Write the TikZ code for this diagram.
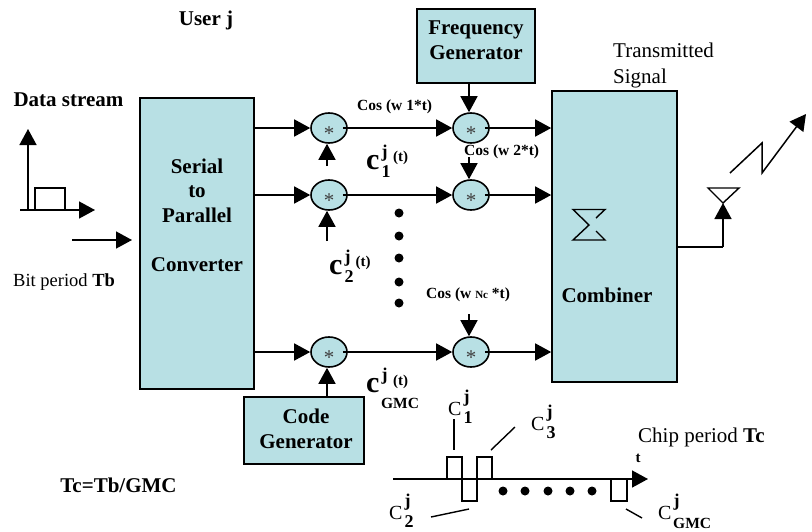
\documentclass[tikz,border=0pt]{standalone}
\usepackage{fontspec}
\setmainfont{Liberation Serif}
\usepackage{xcolor}
\usetikzlibrary{arrows.meta,shapes.geometric}
\definecolor{boxfill}{RGB}{184,224,228}
\newcommand{\supsub}[3]{\rlap{\raisebox{#1pt}{\fontsize{18}{18}\selectfont\bfseries j}}\raisebox{-#2pt}{\fontsize{18}{18}\selectfont\bfseries #3}}
\newcommand{\bigc}[1]{{\fontsize{30}{30}\selectfont\bfseries c}\kern2pt\supsub{12}{8}{#1}}
\newcommand{\chipc}[1]{{\fontsize{20}{20}\selectfont C}\kern2pt\supsub{13}{8}{#1}}
\newcommand{\mixstar}{\smash{\raisebox{-12pt}{*}}}
\tikzset{
    block/.style={draw, line width=1.6pt, fill=boxfill, inner sep=0pt},
    mixer/.style={draw, ellipse, line width=1.6pt, fill=boxfill, inner sep=0pt, minimum width=36pt, minimum height=30pt, text=black!75, font=\fontsize{21}{21}\selectfont},
    txt/.style={inner sep=0pt, align=left, font=\fontsize{21}{26}\selectfont},
    bold/.style={inner sep=0pt, align=center, font=\fontsize{21}{24.5}\selectfont\bfseries},
    small/.style={inner sep=0pt, anchor=base west, font=\fontsize{15.5}{16}\selectfont\bfseries},
    tee/.style={inner sep=0pt, font=\fontsize{15}{15}\selectfont\bfseries},
    code/.style={inner sep=0pt, anchor=base west},
    head/.tip={Triangle[length=16pt,width=17pt]},
    flow/.style={line width=1.5pt, -head},
    plain/.style={line width=1.4pt},
    blob/.style={circle, fill=black, inner sep=0pt, minimum size=9pt}
}

\begin{document}
\begin{tikzpicture}[x=1pt,y=-1pt]
\useasboundingbox (0,0) rectangle (812,531);

\node[block, minimum width=114pt, minimum height=291pt] (conv) at (197,243.5) {};
\node[block, minimum width=118pt, minimum height=74pt] (freq) at (476,46) {};
\node[block, minimum width=125pt, minimum height=291pt] (comb) at (614.5,236.5) {};
\node[block, minimum width=120pt, minimum height=67pt] (gen) at (304,430.5) {};

\node[mixer] (m11) at (329,128) {\mixstar};
\node[mixer] (m21) at (329,195) {\mixstar};
\node[mixer] (m31) at (329,352) {\mixstar};
\node[mixer] (m12) at (471,128) {\mixstar};
\node[mixer] (m22) at (471,195) {\mixstar};
\node[mixer] (m32) at (471,352) {\mixstar};

\node[bold] (convtxt) at (197,215) {Serial\\to\\Parallel\\\\Converter};
\node[bold] (freqtxt) at (476,40) {Frequency\\Generator};
\node[bold] (gentxt) at (306,429) {Code\\Generator};
\node[bold, anchor=base] (combtxt) at (607,302) {Combiner};

\foreach \r in {1,2,3}{
  \draw[flow, shorten <=-2pt] (conv.east |- m\r1) -- (m\r1);
  \draw[flow, shorten <=-5pt] (m\r1) -- (m\r2);
  \draw[flow, shorten <=-5pt] (m\r2) -- (comb.west |- m\r2);
}

% inputs of the mixers
\coordinate (in11) at (327,166);
\coordinate (in21) at (327,241);
\coordinate (in31) at (327,397);
\coordinate (in12) at (469,83);
\coordinate (in22) at (469,157);
\coordinate (in32) at (469,314);
\draw[flow] (in11) -- (m11.south -| in11);
\draw[flow] (in21) -- (m21.south -| in21);
\draw[flow] (in31) -- (m31.south -| in31);
\draw[flow] (in12) -- (m12.north -| in12);
\draw[flow] (in22) -- (m22.north -| in22);
\draw[flow] (in32) -- (m32.north -| in32);

% data stream
\node[bold, anchor=base] (user) at (206,25) {User j};
\node[bold, anchor=base] (data) at (68.5,106) {Data stream};
\coordinate (o) at (28,210);
\coordinate (ytop) at (28,129);
\coordinate (xl) at (20,210);
\coordinate (xr) at (95,210);
\draw[flow] (o) -- (ytop);
\draw[flow] (xl) -- (xr);
\draw[plain] (35,210) -- (35,188) -- (65,188) -- (65,210);
\coordinate (bitin) at (72,240);
\coordinate (bitend) at (132,240);
\draw[flow] (bitin) -- (bitend);
\node[txt, anchor=base west, font=\fontsize{18.5}{20}\selectfont] (bit) at (13,286) {Bit period \textbf{Tb}};
\node[bold, anchor=base] (ratio) at (118.5,492) {Tc=Tb/GMC};

% cosine labels
\node[small] (cos1) at (357,110) {Cos (w 1*t)};
\node[small] (cos2) at (464,155.5) {Cos (w 2*t)};
\node[small] (cos3) at (426,298) {Cos (w {\fontsize{11}{11}\selectfont Nc} *t)};

% code labels
\node[code] (c1) at (366,169.5) {\bigc{1}};
\node[tee] (t1) at (400.5,158) {(t)};
\node[code] (c2) at (329,274) {\bigc{2}};
\node[tee] (t2) at (363,263) {(t)};
\node[code] (c3) at (366,392) {\bigc{}};
\node[tee] (t3) at (400.5,382) {(t)};
\node[tee, font=\fontsize{15.5}{16}\selectfont\bfseries] (c3gmc) at (400,403) {GMC};

\foreach \y in {213,236,258,282,303}{
  \node[blob] at (399,\y) {};
}

% combiner sum sign
\draw[plain] (596,218) -- (605,209.5) -- (573,209.5) -- (589,225) -- (573,240) -- (605,240) -- (596,231);

% antenna
\node[txt, anchor=west] (trans) at (613,65) {Transmitted\\Signal};
\coordinate (ant) at (723,203);
\coordinate (out) at (723,247);
\draw[plain] (comb.east |- out) -- (out);
\draw[flow] (out) -- (ant);
\draw[plain] (708,188) -- (739,188) -- (ant) -- cycle;
\coordinate (z1) at (730,173);
\coordinate (z2) at (762,143);
\coordinate (z3) at (762,173);
\coordinate (z4) at (806,114);
\draw[flow] (z1) -- (z2) -- (z3) -- (z4);

% chip sequence
\coordinate (t0) at (393,479);
\coordinate (tend) at (648,479);
\draw[flow] (t0) -- (tend);
\draw[plain] (447,479) -- (447,457) -- (462,457) -- (462,501) -- (477,501) -- (477,457) -- (492,457) -- (492,479);
\draw[plain] (611,479) -- (611,501) -- (627,501) -- (627,479);
\foreach \x in {503,525,548,570,592}{
  \node[blob] at (\x,491) {};
}
\node[tee, anchor=base] (tlab) at (638,462) {t};
\node[txt, anchor=base west] (chip) at (638,442) {Chip period \textbf{Tc}};

\node[code] (s1) at (448,415) {\chipc{1}};
\node[code] (s3) at (531,430) {\chipc{3}};
\node[code] (s2) at (389,519) {\chipc{2}};
\node[code] (s4) at (658,519) {\chipc{}};
\node[code, font=\fontsize{15.5}{16}\selectfont\bfseries] (s4gmc) at (673,528) {GMC};

\draw[plain] (454,419) -- (454,450);
\draw[plain] (491,450) -- (515,427);
\draw[plain] (431,517) -- (469,509);
\draw[plain] (626,509) -- (642,518);
\end{tikzpicture}
\end{document}
